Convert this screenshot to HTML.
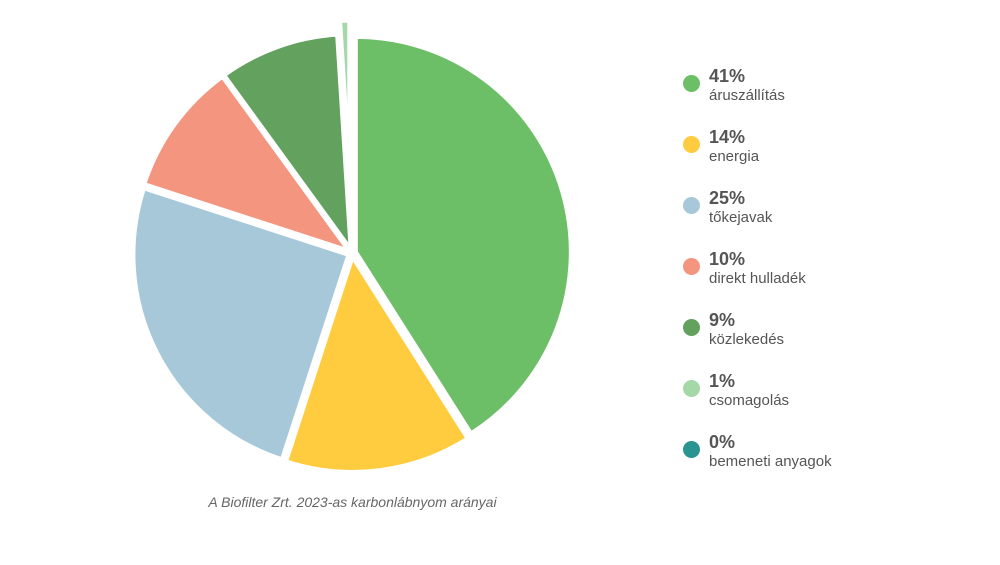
<!DOCTYPE html>
<html><head><meta charset="utf-8"><style>
body{margin:0;background:#fff;width:1000px;height:565px;overflow:hidden;font-family:"Liberation Sans",sans-serif}
.leg{position:absolute;left:683px}
.dot{position:absolute;left:0;top:2px;width:17px;height:17px;border-radius:50%}
.pct{position:absolute;left:26px;top:-7px;font-weight:bold;font-size:18px;color:#555;white-space:nowrap}
.lab{position:absolute;left:26px;top:14px;font-size:15px;color:#555;white-space:nowrap}
</style></head><body>
<svg id="pie" width="1000" height="565" style="position:absolute;left:0;top:0"></svg>
<div style="position:absolute;left:160px;width:385px;top:494px;text-align:center;font-style:italic;font-size:14px;color:#666">A Biofilter Zrt. 2023-as karbonlábnyom arányai</div>
<div id="legend"></div>
<script>
const labels=["áruszállítás","energia","tőkejavak","direkt hulladék","közlekedés","csomagolás","bemeneti anyagok"];
const values=[41,14,25,10,9,1,0];
const colors=["#6dbf67","#ffcc40","#a6c8d9","#f4957f","#62a15e","#a5d8a8","#2a9490"];
const cx=352,cy=253,R=215;
const svg=document.getElementById('pie');
const total=values.reduce((a,b)=>a+b,0);
let a0=0;
values.forEach((v,i)=>{
  if(v<=0)return;
  const a1=a0+v/total*2*Math.PI;
  const mid=(a0+a1)/2;
  const small=v/total<0.02;
  const ex=small?134:4, r=small?97:R;
  const ox=cx+ex*Math.sin(mid), oy=cy-ex*Math.cos(mid);
  const x0=ox+r*Math.sin(a0),y0=oy-r*Math.cos(a0),x1=ox+r*Math.sin(a1),y1=oy-r*Math.cos(a1);
  const p=document.createElementNS('http://www.w3.org/2000/svg','path');
  p.setAttribute('d',`M${ox},${oy}L${x0},${y0}A${r},${r} 0 ${a1-a0>Math.PI?1:0} 1 ${x1},${y1}Z`);
  p.setAttribute('fill',colors[i]);
  p.setAttribute('stroke','#fff');p.setAttribute('stroke-width',small?1:4);p.setAttribute('stroke-linejoin','round');
  
  
  svg.appendChild(p);
  a0=a1;
});
const leg=document.getElementById('legend');
labels.forEach((l,i)=>{
  const d=document.createElement('div');d.className='leg';d.style.top=(73+i*61)+'px';
  
  
  d.innerHTML=`<div class="dot" style="background:${colors[i]}"></div><div class="pct">${values[i]}%</div><div class="lab">${l}</div>`;
  leg.appendChild(d);
});
</script>
</body></html>
